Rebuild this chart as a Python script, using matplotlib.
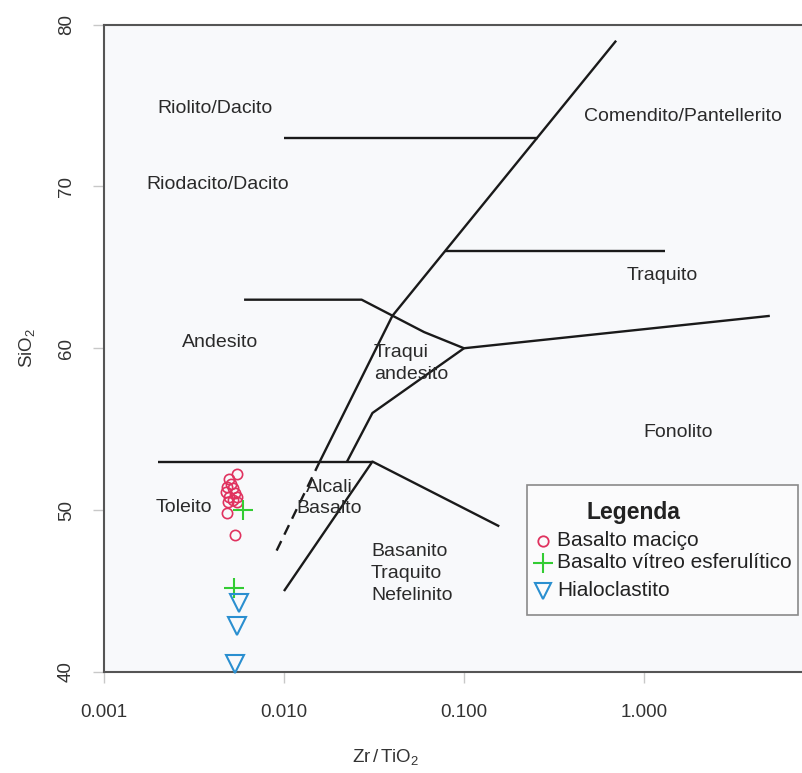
import matplotlib
matplotlib.use("Agg")
import matplotlib.pyplot as plt
from matplotlib.patches import Rectangle

plt.rcParams["font.family"] = ["Liberation Sans", "DejaVu Sans"]
plt.rcParams["mathtext.fontset"] = "custom"
plt.rcParams["mathtext.rm"] = "Liberation Sans"
plt.rcParams["mathtext.it"] = "Liberation Sans:italic"

# --- samples: Zr/TiO2 and SiO2 ---
macico_zr = [0.00546, 0.00497, 0.00506, 0.00484, 0.00519, 0.00476, 0.00534,
             0.00497, 0.00546, 0.00523, 0.00491, 0.00550, 0.00484, 0.00534]
macico_si = [52.24, 51.91, 51.62, 51.45, 51.35, 51.14, 51.04,
             50.83, 50.83, 50.63, 50.52, 50.52, 49.81, 48.47]
vitreo_zr = [0.00592, 0.00528]
vitreo_si = [50.01, 45.19]
hialo_zr = [0.00562, 0.00548, 0.00534]
hialo_si = [44.27, 42.85, 40.50]

# --- field boundaries (Winchester & Floyd) ---
rhyolite_zr = [0.01, 0.257]
rhyolite_si = [73, 73]
main_zr = [0.0158, 0.040, 0.70]
main_si = [53, 62, 79]
main_dash_zr = [0.0091, 0.0158]
main_dash_si = [47.5, 53]
trachyte_zr = [0.078, 1.31]
trachyte_si = [66, 66]
andesite_top_zr = [0.006, 0.027, 0.060, 0.10]
andesite_top_si = [63, 63, 61, 60]
phonolite_zr = [0.10, 5.0]
phonolite_si = [60, 62]
trachyand_zr = [0.10, 0.031, 0.0224]
trachyand_si = [60, 56, 53]
basalt_top_zr = [0.002, 0.031]
basalt_top_si = [53, 53]
basanite_zr = [0.01, 0.031, 0.157]
basanite_si = [45, 53, 49]

# --- field names ---
fields = [
    ("Riolito/Dacito", 0.00414, 74.84, "center"),
    ("Comendito/Pantellerito", 1.65, 74.29, "center"),
    ("Riodacito/Dacito", 0.0043, 70.09, "center"),
    ("Traquito", 1.26, 64.47, "center"),
    ("Andesito", 0.00441, 60.33, "center"),
    ("Traqui\nandesito", 0.0316, 59.03, "left"),
    ("Fonolito", 1.545, 54.77, "center"),
    ("Toleito", 0.00278, 50.14, "center"),
    ("Alcali\nBasalto", 0.0178, 50.75, "center"),
    ("Basanito\nTraquito\nNefelinito", 0.0304, 46.1, "left"),
]

xticks = [0.001, 0.01, 0.1, 1.0]
xticklabels = ["0.001", "0.010", "0.100", "1.000"]
yticks = [40, 50, 60, 70, 80]

W, H = 802, 773
fig = plt.figure(figsize=(W / 100, H / 100), dpi=100)
ax = fig.add_axes([104 / W, (H - 672) / H, (W - 104) / W, (672 - 24.5) / H])
ax.set_facecolor("#f8f9fb")
ax.set_xscale("log")
ax.set_xlim(0.001, 10 ** ((W - 104) / 180 - 3))
ax.set_ylim(40, 80)

ax.set_xticks(xticks)
ax.set_xticklabels(xticklabels)
ax.minorticks_off()
ax.set_yticks(yticks)
ax.set_yticklabels([str(v) for v in yticks], rotation=90, va="center")
ax.tick_params(axis="x", length=8, width=1, color="#c8c8c8",
               labelsize=13.5, labelcolor="#333333", pad=15)
ax.tick_params(axis="y", length=8, width=1, color="#c8c8c8",
               labelsize=13.5, labelcolor="#333333", pad=13)

for side in ("left", "bottom", "top"):
    ax.spines[side].set_color("#555555")
    ax.spines[side].set_linewidth(1.5)
ax.spines["right"].set_visible(False)

line_kw = dict(color="#1a1a1a", lw=1.7, solid_capstyle="butt", zorder=2)
for xs, ys in [(rhyolite_zr, rhyolite_si), (main_zr, main_si),
               (trachyte_zr, trachyte_si), (andesite_top_zr, andesite_top_si),
               (phonolite_zr, phonolite_si), (trachyand_zr, trachyand_si),
               (basalt_top_zr, basalt_top_si), (basanite_zr, basanite_si)]:
    ax.plot(xs, ys, **line_kw)
ax.plot(main_dash_zr, main_dash_si, color="#1a1a1a", lw=1.7,
        linestyle=(0, (4.5, 3)), zorder=2)

for text, x, y, ha in fields:
    ax.text(x, y, text, ha=ha, va="center", fontsize=14, color="#2a2a2a",
            linespacing=1.38, zorder=3)

red, green, blue = "#e0325f", "#33cc33", "#2a8fd0"
ax.plot(macico_zr, macico_si, "o", mfc="none", mec=red, ms=7.4, mew=1.2, zorder=4)
ax.plot(vitreo_zr, vitreo_si, "+", color=green, ms=14, mew=1.5, zorder=4)
ax.plot(hialo_zr, hialo_si, "v", mfc="none", mec=blue, ms=12.5, mew=1.5,
        zorder=4, clip_on=False)


def to_axes(px, py):
    return (px - 104) / (W - 104), (672 - py) / (672 - 24.5)


# legend box
x0, y1 = to_axes(527, 485)
x1, y0 = to_axes(798, 615)
ax.add_patch(Rectangle((x0, y0), x1 - x0, y1 - y0, transform=ax.transAxes,
                       facecolor="#fbfbfc", edgecolor="#8a8a8a", lw=1.2, zorder=5))
tx, ty = to_axes(633, 513)
ax.text(tx, ty, "Legenda", transform=ax.transAxes, ha="center", va="center",
        fontsize=16.5, fontweight="bold", color="#222222", zorder=6)
entries = [
    ("Basalto maciço", 541, dict(marker="o", mfc="none", mec=red, ms=7.5, mew=1.3)),
    ("Basalto vítreo esferulítico", 563, dict(marker="+", color=green, ms=15, mew=1.5)),
    ("Hialoclastito", 591, dict(marker="v", mfc="none", mec=blue, ms=12, mew=1.5)),
]
for label, py, mkw in entries:
    mx, my = to_axes(543, py)
    ax.plot([mx], [my], linestyle="none", transform=ax.transAxes,
            clip_on=False, zorder=6, **mkw)
    lx, _ = to_axes(557, py)
    ax.text(lx, my, label, transform=ax.transAxes, ha="left", va="center",
            fontsize=15, color="#222222", zorder=6)

fig.text(386 / W, 1 - 757 / H, r"Zr$\,/\,$TiO$_2$", ha="center", va="center",
         fontsize=13.5, color="#333333")
fig.text(27 / W, 1 - 348 / H, r"SiO$_2$", ha="center", va="center",
         rotation=90, fontsize=13.5, color="#333333")

fig.savefig("out.png", dpi=100)
